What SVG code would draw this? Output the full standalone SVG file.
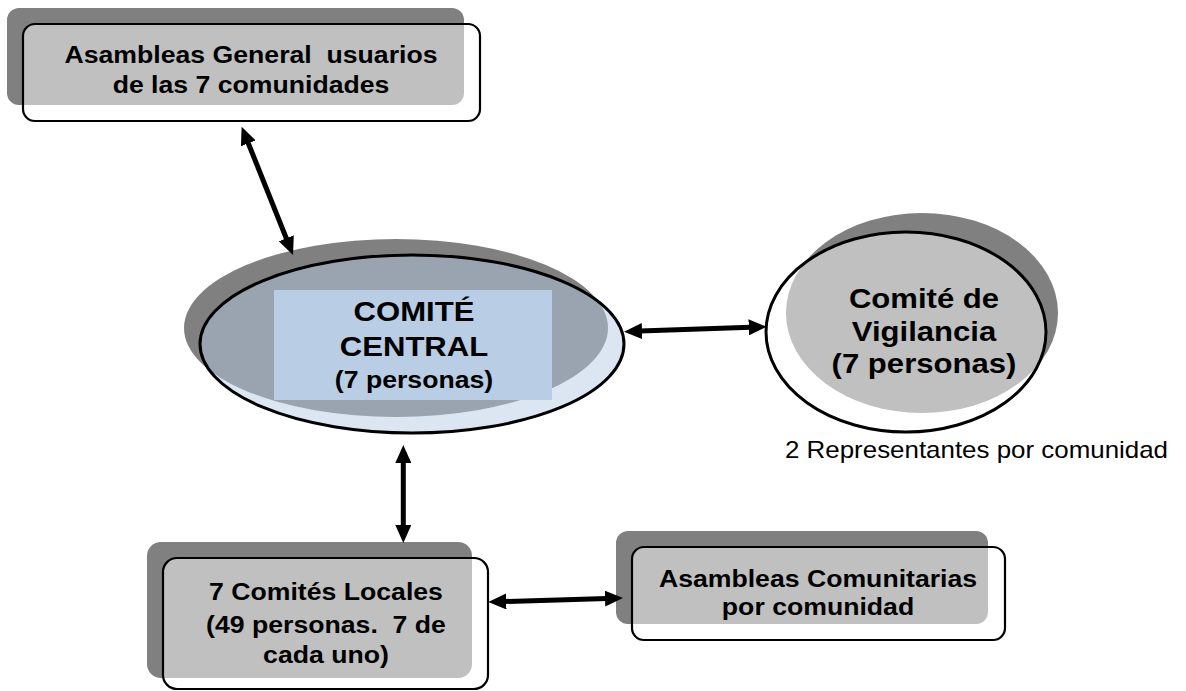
<svg xmlns="http://www.w3.org/2000/svg" width="1186" height="691" viewBox="0 0 1186 691">
<style>
.shadow{fill:#808080}
.fillg{fill:#c0c0c0}
.outline{fill:none;stroke:#000;stroke-width:2.2}
.t{font-family:"Liberation Sans",Arial,sans-serif;font-weight:bold;fill:#000;text-anchor:middle}
.n{font-family:"Liberation Sans",Arial,sans-serif;fill:#000}
.conn{stroke:#000;stroke-width:5;fill:none;marker-start:url(#ah);marker-end:url(#ah)}
</style>
<defs>
<marker id="ah" markerUnits="userSpaceOnUse" markerWidth="18" markerHeight="16" refX="2" refY="8" orient="auto-start-reverse">
<path d="M0,0 L18,8 L0,16 z" fill="#000"/>
</marker>
<clipPath id="cpTop"><rect x="23" y="24" width="457" height="97" rx="12"/></clipPath>
<clipPath id="cpCen"><ellipse cx="412" cy="344" rx="212" ry="89"/></clipPath>
<clipPath id="cpVig"><ellipse cx="906" cy="332" rx="140" ry="100"/></clipPath>
<clipPath id="cpLoc"><rect x="163" y="558" width="325" height="131" rx="14"/></clipPath>
<clipPath id="cpCom"><rect x="632" y="547" width="373" height="93" rx="12"/></clipPath>
</defs>

<g id="asamblea-general">
<rect class="shadow" x="7" y="8" width="457" height="97" rx="12"/>
<rect x="23" y="24" width="457" height="97" rx="12" fill="#fff"/>
<rect class="fillg" x="7" y="8" width="457" height="97" rx="12" clip-path="url(#cpTop)"/>
<rect class="outline" x="23" y="24" width="457" height="97" rx="12"/>
<g transform="translate(251 0) scale(1.11 1)">
<text class="t" x="0" y="63" font-size="24" xml:space="preserve">Asambleas General  usuarios</text>
<text class="t" x="0" y="93" font-size="24">de las 7 comunidades</text>
</g>
</g>

<g id="comite-central">
<ellipse class="shadow" cx="396" cy="328" rx="212" ry="89"/>
<ellipse cx="412" cy="344" rx="212" ry="89" fill="#dce6f2"/>
<ellipse cx="396" cy="328" rx="212" ry="89" fill="#9aa4b1" clip-path="url(#cpCen)"/>
<ellipse cx="412" cy="344" rx="212" ry="89" fill="none" stroke="#000" stroke-width="3"/>
<rect x="274" y="290" width="278" height="110" fill="#b9cde5"/>
<g transform="translate(414 0) scale(1.11 1)">
<text class="t" x="0" y="321" font-size="28">COMITÉ</text>
<text class="t" x="0" y="356" font-size="28">CENTRAL</text>
<text class="t" x="0" y="388" font-size="24">(7 personas)</text>
</g>
</g>

<g id="comite-vigilancia">
<ellipse class="shadow" cx="922" cy="313" rx="136" ry="100"/>
<ellipse cx="906" cy="332" rx="140" ry="100" fill="#fff"/>
<ellipse cx="922" cy="313" rx="136" ry="100" fill="#c0c0c0" clip-path="url(#cpVig)"/>
<ellipse cx="906" cy="332" rx="140" ry="100" fill="none" stroke="#000" stroke-width="3"/>
<g transform="translate(924 0) scale(1.11 1)">
<text class="t" x="0" y="308" font-size="28">Comité de</text>
<text class="t" x="0" y="341" font-size="28">Vigilancia</text>
<text class="t" x="0" y="373" font-size="28">(7 personas)</text>
</g>
</g>

<g id="nota-representantes">
<text class="n" x="785" y="458" font-size="24" textLength="383" lengthAdjust="spacingAndGlyphs">2 Representantes por comunidad</text>
</g>

<g id="comites-locales">
<rect class="shadow" x="147" y="542" width="325" height="136" rx="14"/>
<rect x="163" y="558" width="325" height="131" rx="14" fill="#fff"/>
<rect class="fillg" x="147" y="542" width="325" height="136" rx="14" clip-path="url(#cpLoc)"/>
<rect class="outline" x="163" y="558" width="325" height="131" rx="14"/>
<g transform="translate(326 0) scale(1.11 1)">
<text class="t" x="0" y="600" font-size="24">7 Comités Locales</text>
<text class="t" x="0" y="633" font-size="24" xml:space="preserve">(49 personas.  7 de</text>
<text class="t" x="0" y="663" font-size="24">cada uno)</text>
</g>
</g>

<g id="asambleas-comunitarias">
<rect class="shadow" x="616" y="531" width="372" height="93" rx="12"/>
<rect x="632" y="547" width="373" height="93" rx="12" fill="#fff"/>
<rect class="fillg" x="616" y="531" width="372" height="93" rx="12" clip-path="url(#cpCom)"/>
<rect class="outline" x="632" y="547" width="373" height="93" rx="12"/>
<g transform="translate(818 0) scale(1.11 1)">
<text class="t" x="0" y="587" font-size="24">Asambleas Comunitarias</text>
<text class="t" x="0" y="615" font-size="24">por comunidad</text>
</g>
</g>

<g id="connectors">
<line class="conn" x1="247.6" y1="141.5" x2="287.1" y2="240.2"/>
<line class="conn" x1="640" y1="331.1" x2="750.7" y2="327.3"/>
<line class="conn" x1="403.3" y1="461" x2="403.3" y2="527"/>
<line class="conn" x1="504.3" y1="601.5" x2="607" y2="598.5"/>
</g>
</svg>
